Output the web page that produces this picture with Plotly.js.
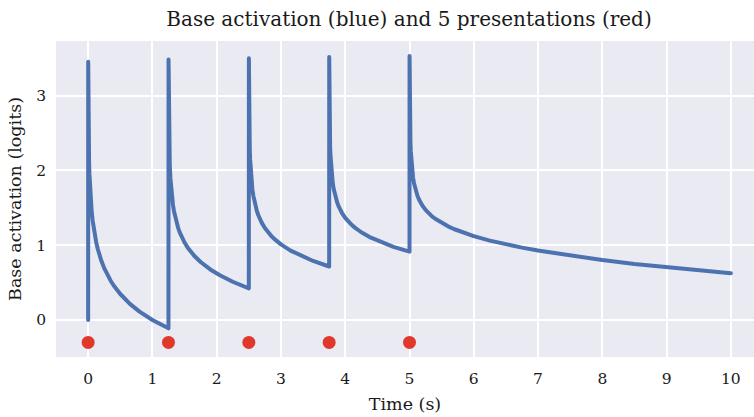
<!DOCTYPE html>
<html>
<head>
<meta charset="utf-8">
<script src="https://cdn.plot.ly/plotly-3.0.1.min.js"></script>
<style>
html,body{margin:0;padding:0;background:#fff;}
#chart{width:754px;height:417px;}
.js-line{stroke-linejoin:round;stroke-linecap:round;}
</style>
</head>
<body>
<div id="chart"></div>
<script>
// Time samples (s) of the base-activation curve
var timeS = [
  0, 0.001, 0.003, 0.005, 0.0075, 0.01, 0.015, 0.02, 0.03, 0.04, 0.055, 0.07, 0.085, 0.1, 0.125, 0.15, 0.175, 0.2, 0.25, 0.3, 0.35, 0.4, 0.5, 0.65, 0.8, 1.0, 1.25,
  1.251, 1.253, 1.255, 1.2575, 1.26, 1.265, 1.27, 1.28, 1.29, 1.305, 1.32, 1.335, 1.35, 1.375, 1.40, 1.425, 1.45, 1.5, 1.55, 1.6, 1.65, 1.75, 1.90, 2.05, 2.25, 2.5,
  2.501, 2.503, 2.505, 2.5075, 2.51, 2.515, 2.52, 2.53, 2.54, 2.555, 2.57, 2.585, 2.6, 2.625, 2.65, 2.675, 2.7, 2.75, 2.8, 2.85, 2.9, 3.0, 3.15, 3.3, 3.5, 3.75,
  3.751, 3.753, 3.755, 3.7575, 3.76, 3.765, 3.77, 3.78, 3.79, 3.805, 3.82, 3.835, 3.85, 3.875, 3.9, 3.925, 3.95, 4.0, 4.05, 4.1, 4.15, 4.25, 4.4, 4.55, 4.75, 5.0,
  5.001, 5.003, 5.005, 5.0075, 5.01, 5.015, 5.02, 5.03, 5.04, 5.055, 5.07, 5.085, 5.1, 5.125, 5.15, 5.175, 5.2, 5.25, 5.3, 5.35, 5.4, 5.5, 5.6, 5.7, 5.85, 6.0, 6.25, 6.5, 6.75, 7.0, 7.5, 8.0, 8.5, 9.0, 9.5, 10
];
// Base activation (logits)
var activation = [
  0, 3.454, 2.905, 2.649, 2.448, 2.303, 2.100, 1.956, 1.753, 1.609, 1.450, 1.330, 1.233, 1.151, 1.040, 0.949, 0.872, 0.805, 0.693, 0.602, 0.525, 0.458, 0.347, 0.215, 0.112, 0.0, -0.112,
  3.482, 2.952, 2.710, 2.521, 2.388, 2.203, 2.074, 1.896, 1.772, 1.637, 1.537, 1.458, 1.392, 1.303, 1.232, 1.172, 1.121, 1.036, 0.967, 0.909, 0.859, 0.775, 0.676, 0.597, 0.511, 0.423,
  3.501, 2.985, 2.752, 2.570, 2.444, 2.271, 2.150, 1.986, 1.873, 1.752, 1.663, 1.593, 1.535, 1.458, 1.397, 1.345, 1.302, 1.230, 1.172, 1.123, 1.081, 1.011, 0.928, 0.862, 0.789, 0.715,
  3.516, 3.011, 2.784, 2.609, 2.488, 2.322, 2.209, 2.054, 1.949, 1.837, 1.755, 1.692, 1.640, 1.570, 1.515, 1.469, 1.430, 1.366, 1.315, 1.272, 1.235, 1.173, 1.101, 1.042, 0.978, 0.913,
  3.530, 3.032, 2.811, 2.641, 2.525, 2.365, 2.257, 2.110, 2.011, 1.905, 1.829, 1.770, 1.722, 1.658, 1.607, 1.565, 1.530, 1.472, 1.425, 1.386, 1.353, 1.297, 1.252, 1.213, 1.163, 1.121, 1.061, 1.011, 0.967, 0.928, 0.859, 0.801, 0.749, 0.704, 0.662, 0.624
];
// Presentation times (red dots)
var presentationTimes = [0, 1.25, 2.5, 3.75, 5];
var presentationY = [-0.3, -0.3, -0.3, -0.3, -0.3];
var xTicks = [0, 1, 2, 3, 4, 5, 6, 7, 8, 9, 10];
var yTicks = [0, 1, 2, 3];

var serif = 'DejaVu Serif, serif';

var traces = [
  {
    x: timeS, y: activation, type: 'scatter', mode: 'lines',
    line: {color: '#4C72B0', width: 4},
    hoverinfo: 'skip', showlegend: false
  },
  {
    x: presentationTimes, y: presentationY, type: 'scatter', mode: 'markers',
    marker: {color: '#E0392B', size: 13},
    hoverinfo: 'skip', showlegend: false
  }
];

var layout = {
  width: 754, height: 417,
  margin: {l: 56, r: 0, t: 41, b: 60, pad: 0},
  paper_bgcolor: '#ffffff',
  plot_bgcolor: '#EAEAF2',
  font: {family: serif, color: '#1a1a1a', size: 15},
  title: {
    text: 'Base activation (blue) and 5 presentations (red)',
    font: {family: serif, size: 20, color: '#1a1a1a'},
    x: 0.5057, xref: 'paper', xanchor: 'center', y: 0.955, yanchor: 'middle'
  },
  xaxis: {
    range: [-0.5, 10.36],
    tickvals: xTicks,
    ticktext: xTicks.map(String),
    showgrid: true, gridcolor: '#ffffff', gridwidth: 2,
    zeroline: false, showline: false, ticks: '',
    tickfont: {family: serif, size: 15.5, color: '#1a1a1a'},
    ticklabelstandoff: 10,
    title: {text: 'Time (s)', font: {family: serif, size: 17.5, color: '#1a1a1a'}, standoff: 11}
  },
  yaxis: {
    range: [-0.495, 3.73],
    tickvals: yTicks,
    ticktext: yTicks.map(String),
    showgrid: true, gridcolor: '#ffffff', gridwidth: 2,
    zeroline: false, showline: false, ticks: '',
    tickfont: {family: serif, size: 15.5, color: '#1a1a1a'},
    ticklabelstandoff: 9,
    title: {text: 'Base activation (logits)', font: {family: serif, size: 17.5, color: '#1a1a1a'}, standoff: 10}
  }
};

Plotly.newPlot('chart', traces, layout, {staticPlot: true, displayModeBar: false});
</script>
</body>
</html>
